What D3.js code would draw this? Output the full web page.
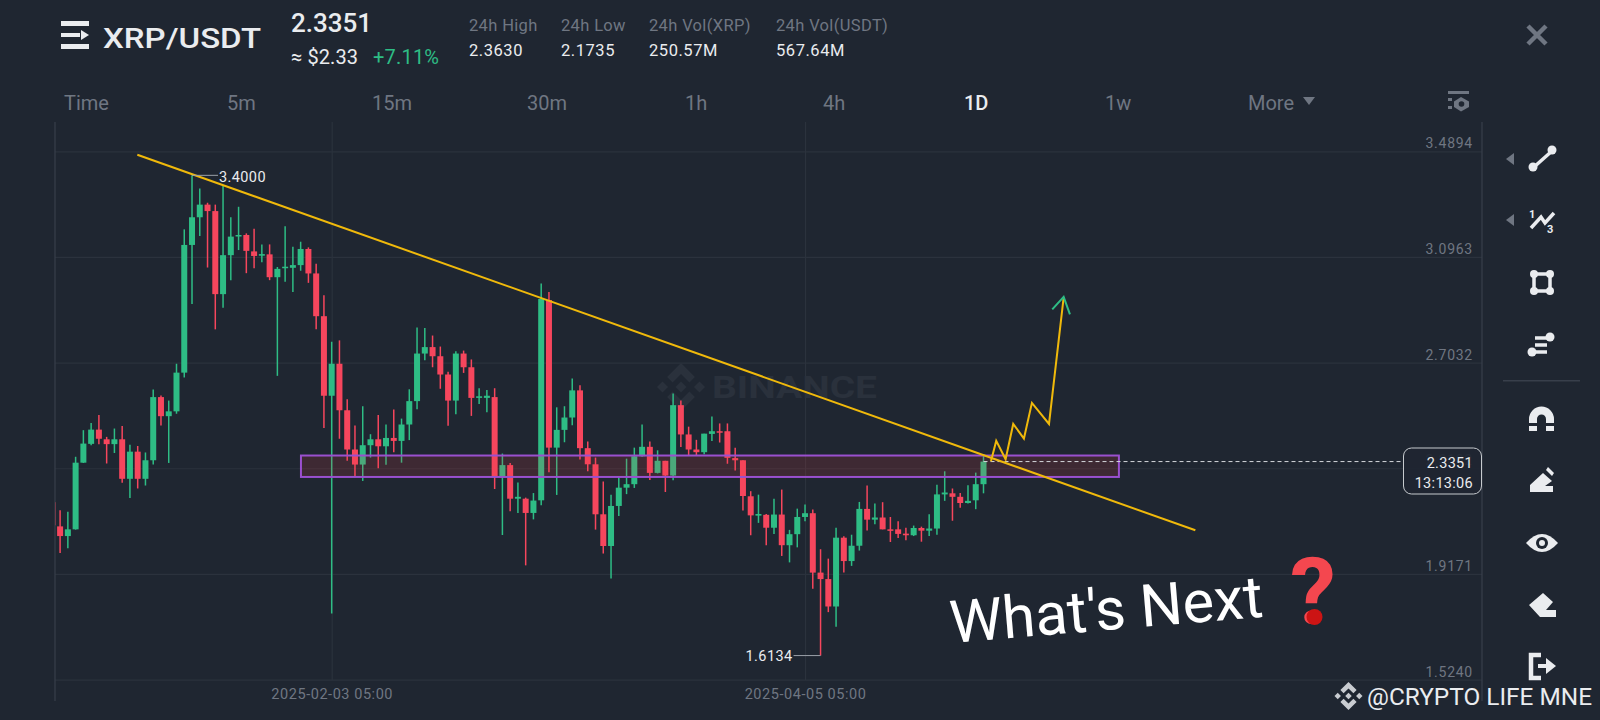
<!DOCTYPE html>
<html>
<head>
<meta charset="utf-8">
<style>
  html, body { margin: 0; background: #1f2631; overflow: hidden; }
  svg { display: block; font-family: Roboto, sans-serif; }
</style>
</head>
<body>
<svg id="chart"></svg>
<script src="https://cdn.jsdelivr.net/npm/d3@7"></script>
<script>
// daily candles, first one is 2024-12-29 (mostly cut off by the chart edge)
let candleOpen = [2.184,
  2.094, 2.058, 2.083, 2.331, 2.401, 2.454, 2.418, 2.400, 2.418, 2.271,
  2.372, 2.271, 2.340, 2.575, 2.504, 2.522, 2.666, 3.141, 3.244, 3.291,
  3.267, 2.958, 3.103, 3.173, 3.178, 3.117, 3.101, 3.106, 3.021, 3.055,
  3.056, 3.066, 3.126, 3.035, 2.876, 2.580, 2.699, 2.526, 2.380, 2.324,
  2.396, 2.418, 2.392, 2.423, 2.412, 2.473, 2.560, 2.737, 2.761, 2.727,
  2.659, 2.562, 2.737, 2.686, 2.572, 2.572, 2.575, 2.281, 2.322, 2.197,
  2.197, 2.144, 2.191, 2.936, 2.387, 2.453, 2.499, 2.600, 2.385, 2.325,
  2.139, 2.021, 2.170, 2.238, 2.251, 2.355, 2.390, 2.293, 2.338, 2.283,
  2.545, 2.436, 2.380, 2.370, 2.438, 2.448, 2.448, 2.348, 2.340, 2.206,
  2.134, 2.137, 2.089, 2.138, 2.024, 2.065, 2.129, 2.143, 1.922, 1.898,
  1.796, 2.052, 1.965, 2.022, 2.159, 2.119, 2.127, 2.083, 2.083, 2.067,
  2.061, 2.088, 2.078, 2.086, 2.213, 2.217, 2.204, 2.181, 2.191, 2.251];

let candleClose = [2.098,
  2.058, 2.083, 2.331, 2.402, 2.454, 2.420, 2.400, 2.418, 2.271, 2.372,
  2.271, 2.340, 2.575, 2.504, 2.522, 2.666, 3.141, 3.244, 3.291, 3.267,
  2.958, 3.103, 3.172, 3.178, 3.119, 3.100, 3.107, 3.021, 3.052, 3.060,
  3.066, 3.126, 3.035, 2.876, 2.580, 2.699, 2.526, 2.380, 2.324, 2.396,
  2.418, 2.392, 2.423, 2.412, 2.473, 2.560, 2.737, 2.761, 2.727, 2.659,
  2.562, 2.737, 2.686, 2.572, 2.578, 2.580, 2.281, 2.322, 2.197, 2.204,
  2.144, 2.190, 2.940, 2.387, 2.453, 2.499, 2.600, 2.385, 2.325, 2.139,
  2.021, 2.170, 2.238, 2.251, 2.355, 2.390, 2.293, 2.338, 2.283, 2.545,
  2.436, 2.380, 2.370, 2.439, 2.448, 2.443, 2.349, 2.340, 2.207, 2.135,
  2.140, 2.089, 2.138, 2.024, 2.065, 2.129, 2.143, 1.922, 1.898, 1.796,
  2.052, 1.965, 2.022, 2.159, 2.119, 2.127, 2.083, 2.078, 2.066, 2.061,
  2.088, 2.078, 2.086, 2.213, 2.220, 2.204, 2.181, 2.189, 2.251, 2.3351];

let candleHigh = [2.200,
  2.154, 2.148, 2.353, 2.452, 2.479, 2.508, 2.427, 2.458, 2.467, 2.398,
  2.393, 2.369, 2.603, 2.581, 2.562, 2.699, 3.199, 3.400, 3.351, 3.298,
  3.291, 3.364, 3.244, 3.283, 3.184, 3.201, 3.143, 3.143, 3.059, 3.211,
  3.134, 3.153, 3.132, 3.071, 2.954, 2.781, 2.786, 2.567, 2.469, 2.541,
  2.437, 2.508, 2.473, 2.529, 2.495, 2.604, 2.834, 2.832, 2.804, 2.763,
  2.669, 2.746, 2.748, 2.715, 2.608, 2.601, 2.608, 2.365, 2.330, 2.257,
  2.201, 2.218, 2.998, 2.966, 2.537, 2.541, 2.644, 2.619, 2.410, 2.350,
  2.261, 2.212, 2.276, 2.346, 2.387, 2.473, 2.410, 2.377, 2.338, 2.588,
  2.562, 2.465, 2.416, 2.439, 2.503, 2.477, 2.477, 2.387, 2.340, 2.225,
  2.212, 2.140, 2.197, 2.231, 2.081, 2.160, 2.175, 2.157, 2.009, 1.974,
  2.089, 2.057, 2.063, 2.185, 2.246, 2.179, 2.184, 2.129, 2.113, 2.089,
  2.097, 2.093, 2.139, 2.249, 2.299, 2.235, 2.218, 2.247, 2.294, 2.363];

let candleLow = [2.070,
  1.995, 2.013, 2.082, 2.330, 2.396, 2.400, 2.328, 2.367, 2.256, 2.200,
  2.235, 2.246, 2.324, 2.469, 2.330, 2.513, 2.648, 2.921, 3.174, 3.057,
  2.827, 2.907, 3.010, 3.122, 3.036, 3.054, 3.077, 3.010, 2.654, 3.004,
  2.966, 3.045, 3.000, 2.827, 2.460, 1.770, 2.420, 2.338, 2.281, 2.263,
  2.350, 2.310, 2.323, 2.370, 2.331, 2.415, 2.530, 2.712, 2.686, 2.606,
  2.468, 2.511, 2.665, 2.505, 2.549, 2.519, 2.233, 2.062, 2.150, 2.144,
  1.949, 2.120, 2.173, 2.295, 2.211, 2.407, 2.470, 2.343, 2.299, 2.082,
  1.993, 1.900, 2.133, 2.214, 2.237, 2.353, 2.267, 2.291, 2.222, 2.266,
  2.389, 2.356, 2.359, 2.362, 2.412, 2.406, 2.327, 2.302, 2.153, 2.061,
  2.107, 2.024, 2.066, 1.984, 1.960, 2.016, 2.113, 1.862, 1.6134, 1.775,
  1.721, 1.922, 1.947, 2.004, 2.079, 2.102, 2.083, 2.036, 2.051, 2.042,
  2.058, 2.037, 2.058, 2.063, 2.189, 2.115, 2.163, 2.179, 2.158, 2.217];

let priceTicks = [3.4894, 3.0963, 2.7032, 2.3102, 1.9171, 1.5240];
let timeTickIndex = [36, 97];
let timeTickLabels = ['2025-02-03 05:00', '2025-04-05 05:00'];

// drawings on the chart, x is candle index, y is price
let trendIndex = [10.95, 147.3];
let trendPrice = [3.4767, 2.0795];
let zoneIndex = [32.04, 137.45];
let zonePrice = [2.3576, 2.2779];
let zigzagIndex = [120.96, 121.64, 122.85, 123.83, 125.21, 126.24, 128.44, 130.33];
let zigzagPrice = [2.3364, 2.412, 2.3438, 2.4752, 2.4209, 2.5534, 2.4752, 2.9458];
let arrowIndex = [128.86, 130.33, 131.14];
let arrowPrice = [2.9012, 2.9481, 2.8826];
let lastPrice = 2.3351;
let highLabel = { index: 18, price: 3.4, text: '3.4000' };
let lowLabel = { index: 99, price: 1.6134, text: '1.6134' };

let statLabels = ['24h High', '24h Low', '24h Vol(XRP)', '24h Vol(USDT)'];
let statValues = ['2.3630', '2.1735', '250.57M', '567.64M'];
let intervalLabels = ['Time', '5m', '15m', '30m', '1h', '4h', '1D', '1w', 'More'];

let width = 1600;
let height = 720;
let bg = '#1f2631';
let gridColor = '#2b323d';
let axisColor = '#383f4b';
let upColor = '#2ebd85';
let downColor = '#f6465d';
let mutedText = '#6f7682';
let lightText = '#eaecef';
let iconColor = '#eaecef';

let svg = d3.select('#chart').attr('width', width).attr('height', height);

let xScale = d3.scaleLinear().domain([0, 120]).range([52.34, 983.5]);
let yScale = d3.scaleLinear().domain([3.4894, 1.5240]).range([151.3, 679.6]);

let label = (parent, x, y, text, size, color, anchor, weight) => {
  return parent.append('text').
  attr('x', x).
  attr('y', y).
  attr('font-size', size).
  attr('fill', color).
  attr('text-anchor', anchor || 'start').
  attr('font-weight', weight || 400).
  text(text);
};

let drawLogo = (cx, cy, r, color) => {
  let g = svg.append('g').attr('transform', 'translate(' + cx + ',' + cy + ') scale(' + r + ')').attr('fill', color);
  let diamond = (x, s) => g.append('polygon').attr('points', [[x, -s], [x + s, 0], [x, s], [x - s, 0]].join(' '));
  diamond(0, 0.23);
  diamond(-0.77, 0.23);
  diamond(0.77, 0.23);
  [-1, 1].forEach(dir => {
    g.append('polygon').attr('points', [[0, dir], [0.58, dir * 0.42], [0.35, dir * 0.19], [0, dir * 0.54], [-0.35, dir * 0.19], [-0.58, dir * 0.42]].join(' '));
  });
};

let drawAxes = () => {
  let yAxis = d3.axisRight(yScale).
  tickValues(priceTicks).
  tickFormat(d3.format('.4f')).
  tickSize(1482 - 55).
  tickPadding(0);
  let yGroup = svg.append('g').attr('transform', 'translate(55,0)').call(yAxis);
  yGroup.select('.domain').remove();
  yGroup.selectAll('line').attr('stroke', gridColor).attr('stroke-width', 1.2);
  yGroup.selectAll('text').
  attr('x', 1473 - 55).
  attr('dy', -3.5).
  attr('text-anchor', 'end').
  attr('fill', mutedText).
  attr('font-family', 'Roboto').
  attr('font-size', 14).
  attr('letter-spacing', 0.75);

  let xAxis = d3.axisBottom(xScale).
  tickValues(timeTickIndex).
  tickFormat((d, i) => timeTickLabels[i]).
  tickSize(-(680 - 122)).
  tickPadding(9);
  let xGroup = svg.append('g').attr('transform', 'translate(0,680)').call(xAxis);
  xGroup.select('.domain').remove();
  xGroup.selectAll('line').attr('stroke', gridColor).attr('stroke-width', 1.2);
  xGroup.selectAll('text').
  attr('fill', mutedText).
  attr('font-family', 'Roboto').
  attr('font-size', 14.5).
  attr('letter-spacing', 0.55);

  [55, 1482].forEach(x => {
    svg.append('line').attr('x1', x).attr('x2', x).attr('y1', 122).attr('y2', 701).attr('stroke', axisColor).attr('stroke-width', 1.2);
  });
};

let drawWatermark = () => {
  drawLogo(681, 387, 24, '#2a313c');
  label(svg, 712, 398, 'BINANCE', 32, '#2a313c', 'start', 700).attr('textLength', 165).attr('lengthAdjust', 'spacingAndGlyphs');
};

let drawCandles = () => {
  let defs = svg.append('defs');
  defs.append('clipPath').attr('id', 'plot').append('rect').
  attr('x', 55).attr('y', 122).attr('width', 1427).attr('height', 579);

  let candles = d3.range(candleOpen.length);
  let colorOf = i => candleClose[i] >= candleOpen[i] ? upColor : downColor;
  let g = svg.append('g').attr('clip-path', 'url(#plot)');

  g.selectAll('line').
  data(candles).
  enter().
  append('line').
  attr('x1', i => xScale(i)).
  attr('x2', i => xScale(i)).
  attr('y1', i => yScale(candleHigh[i])).
  attr('y2', i => yScale(candleLow[i])).
  attr('stroke', colorOf).
  attr('stroke-width', 1.5);

  g.selectAll('rect').
  data(candles).
  enter().
  append('rect').
  attr('x', i => xScale(i) - 3).
  attr('width', 6).
  attr('y', i => yScale(Math.max(candleOpen[i], candleClose[i]))).
  attr('height', i => Math.max(1.5, Math.abs(yScale(candleOpen[i]) - yScale(candleClose[i])))).
  attr('fill', colorOf);
};

let drawDrawings = () => {
  let line = (xs, ys) => d3.line().x(i => xScale(xs[i])).y(i => yScale(ys[i]))(d3.range(xs.length));

  // resistance zone sits over the candles
  svg.append('rect').
  attr('x', xScale(zoneIndex[0])).
  attr('width', xScale(zoneIndex[1]) - xScale(zoneIndex[0])).
  attr('y', yScale(zonePrice[0])).
  attr('height', yScale(zonePrice[1]) - yScale(zonePrice[0])).
  attr('fill', 'rgba(240, 60, 70, 0.15)').
  attr('stroke', '#9a50cf').
  attr('stroke-width', 2);

  // dashes from last candle to the price badge
  svg.append('line').
  attr('x1', xScale(120)).
  attr('x2', 1403).
  attr('y1', yScale(lastPrice)).
  attr('y2', yScale(lastPrice)).
  attr('stroke', '#d5d8dc').
  attr('stroke-width', 1).
  attr('stroke-dasharray', '4 3');

  svg.append('path').
  attr('d', line(trendIndex, trendPrice)).
  attr('fill', 'none').attr('stroke', '#f0b90b').attr('stroke-width', 2);
  svg.append('path').
  attr('d', line(zigzagIndex, zigzagPrice)).
  attr('fill', 'none').attr('stroke', '#f0b90b').attr('stroke-width', 2);
  svg.append('path').
  attr('d', line(arrowIndex, arrowPrice)).
  attr('fill', 'none').attr('stroke', upColor).attr('stroke-width', 2);

  // high and low callouts
  let hx = xScale(highLabel.index);
  let hy = yScale(highLabel.price);
  svg.append('line').attr('x1', hx).attr('x2', hx + 26).attr('y1', hy).attr('y2', hy).attr('stroke', '#9aa0a8').attr('stroke-width', 1);
  label(svg, hx + 27, hy + 7, highLabel.text, 14.5, lightText).attr('letter-spacing', 0.4);
  let lx = xScale(lowLabel.index);
  let ly = yScale(lowLabel.price);
  svg.append('line').attr('x1', lx).attr('x2', lx - 27).attr('y1', ly).attr('y2', ly).attr('stroke', '#9aa0a8').attr('stroke-width', 1);
  label(svg, lx - 28, ly + 5, lowLabel.text, 14.5, lightText, 'end').attr('letter-spacing', 0.4);
};

let drawBadge = () => {
  svg.append('rect').
  attr('x', 1403.5).attr('y', 448).attr('width', 78).attr('height', 46).attr('rx', 8).
  attr('fill', bg).attr('fill-opacity', 0.93).
  attr('stroke', '#c6cace').attr('stroke-width', 1);
  label(svg, 1473, 468, '2.3351', 14.5, lightText, 'end').attr('letter-spacing', 0.3);
  label(svg, 1473, 488, '13:13:06', 14.5, lightText, 'end').attr('letter-spacing', 0.3);
};

let drawHeader = () => {
  // menu icon
  let menu = svg.append('g').attr('fill', lightText);
  menu.append('rect').attr('x', 61).attr('y', 21).attr('width', 28).attr('height', 5);
  menu.append('rect').attr('x', 61).attr('y', 44).attr('width', 28).attr('height', 5);
  menu.append('rect').attr('x', 61).attr('y', 33).attr('width', 19).attr('height', 4);
  menu.append('polygon').attr('points', '81,30 89,35 81,40');

  label(svg, 103, 48, 'XRP/USDT', 28.5, lightText, 'start', 500).attr('textLength', 158).attr('lengthAdjust', 'spacingAndGlyphs');
  label(svg, 291, 32, '2.3351', 26, lightText, 'start', 500);
  label(svg, 291, 64, '\u2248 $2.33', 20, lightText).attr('letter-spacing', 0.1);
  label(svg, 373, 64, '+7.11%', 20, upColor).attr('letter-spacing', 0.2);

  let statX = [469, 561, 649, 776];
  statLabels.forEach((t, i) => label(svg, statX[i], 31, t, 16.5, mutedText).attr('letter-spacing', 0.35));
  statValues.forEach((t, i) => label(svg, statX[i], 56, t, 16.5, lightText).attr('letter-spacing', 0.55));

  let intervalX = [64, 227, 372, 527, 685, 823, 964, 1105, 1248];
  intervalLabels.forEach((t, i) => {
    let active = t === '1D';
    label(svg, intervalX[i], 110, t, 20, active ? lightText : mutedText, 'start', active ? 500 : 400);
  });
  svg.append('polygon').attr('points', '1303,97 1315,97 1309,105').attr('fill', mutedText);

  // chart settings icon
  let gear = svg.append('g').attr('fill', mutedText);
  gear.append('rect').attr('x', 1448).attr('y', 91).attr('width', 21).attr('height', 3);
  gear.append('rect').attr('x', 1448).attr('y', 98).attr('width', 4).attr('height', 3);
  gear.append('rect').attr('x', 1448).attr('y', 106).attr('width', 4).attr('height', 3);
  gear.append('polygon').attr('points', '1461,97 1469,101.5 1469,107 1461,111.5 1454,107 1454,101.5');
  svg.append('circle').attr('cx', 1461.5).attr('cy', 104).attr('r', 2.8).attr('fill', bg);

  // close button
  svg.append('path').attr('d', 'M1528 26 L1546 44 M1546 26 L1528 44').attr('stroke', mutedText).attr('stroke-width', 4.5).attr('fill', 'none');
};

let drawToolbar = () => {
  let icons = svg.append('g').attr('fill', iconColor).attr('stroke', iconColor).attr('stroke-width', 0);
  let stroke = (d, w) => icons.append('path').attr('d', d).attr('fill', 'none').attr('stroke-width', w);
  let dot = (x, y, r) => icons.append('circle').attr('cx', x).attr('cy', y).attr('r', r);
  let solid = d => icons.append('path').attr('d', d);

  // line tool
  stroke('M1534 167 L1552 151', 3.5);
  dot(1533, 167, 4.5);
  dot(1552, 150, 4.5);
  svg.append('polygon').attr('points', '1514,153 1514,165 1506,159').attr('fill', mutedText);
  svg.append('polygon').attr('points', '1514,214 1514,226 1506,220').attr('fill', mutedText);

  // 1/3 tool
  stroke('M1531 228 L1541 217 L1545 223 L1554 213', 3.5);
  label(icons, 1529, 218, '1', 11, iconColor, 'start', 700);
  label(icons, 1547, 233, '3', 11, iconColor, 'start', 700);

  // rectangle tool
  stroke('M1534 274 H1550 V291 H1534 Z', 3.5);
  [[1534, 274], [1550, 274], [1534, 291], [1550, 291]].forEach(p => dot(p[0], p[1], 4));

  // fib tool
  stroke('M1535 338 H1548', 3.5);
  stroke('M1535 345 H1547', 3.5);
  stroke('M1535 352 H1547', 3.5);
  dot(1532, 352, 4.5);
  dot(1550, 337, 4.5);

  // separator
  svg.append('rect').attr('x', 1503).attr('y', 380).attr('width', 77).attr('height', 1.5).attr('fill', axisColor);

  // magnet
  stroke('M1533 423 V419 A8.5 8.5 0 0 1 1550 419 V423', 8);
  solid('M1529 426 H1537 V431 H1529 Z M1546 426 H1554 V431 H1546 Z');

  // pencil
  solid('M1530 492 V485 L1543 473 L1552 481 L1545 486 H1553 V492 Z');
  solid('M1546 470 L1548 467 L1554 473 L1552 476 Z');

  // eye
  solid('M1526 543 Q1542 525 1558 543 Q1542 561 1526 543 Z');
  svg.append('circle').attr('cx', 1542).attr('cy', 543).attr('r', 6).attr('fill', bg);
  svg.append('circle').attr('cx', 1542).attr('cy', 543).attr('r', 3).attr('fill', iconColor);

  // eraser
  solid('M1529 605 L1543 593 L1553 602 L1546 610 H1556 V617 H1540 Z');

  // leave drawing mode
  stroke('M1541 655 H1531 V678 H1541', 4.5);
  solid('M1538 664 H1546 V658 L1556 666 L1546 674 V668 H1538 Z');
};

let drawOverlayText = () => {
  let t = label(svg, 0, 0, "What's Next", 59, '#ffffff').
  attr('textLength', 314).
  attr('lengthAdjust', 'spacingAndGlyphs').
  attr('transform', 'translate(951.5,643) rotate(-4.8)');
  t.attr('font-family', 'Roboto');

  label(svg, 1313, 623, '?', 92, '#f4474f', 'middle', 700);
  svg.append('circle').attr('cx', 1314.5).attr('cy', 617).attr('r', 8).attr('fill', '#cc1414');

  drawLogo(1348.5, 696, 14, '#c9ccd1');
  label(svg, 1367, 705, '@CRYPTO LIFE MNE', 24, lightText).attr('textLength', 225).attr('lengthAdjust', 'spacingAndGlyphs');
};

svg.append('rect').attr('width', width).attr('height', height).attr('fill', bg);
drawAxes();
drawWatermark();
drawCandles();
drawDrawings();
drawBadge();
drawHeader();
drawToolbar();
drawOverlayText();
</script>
</body>
</html>
